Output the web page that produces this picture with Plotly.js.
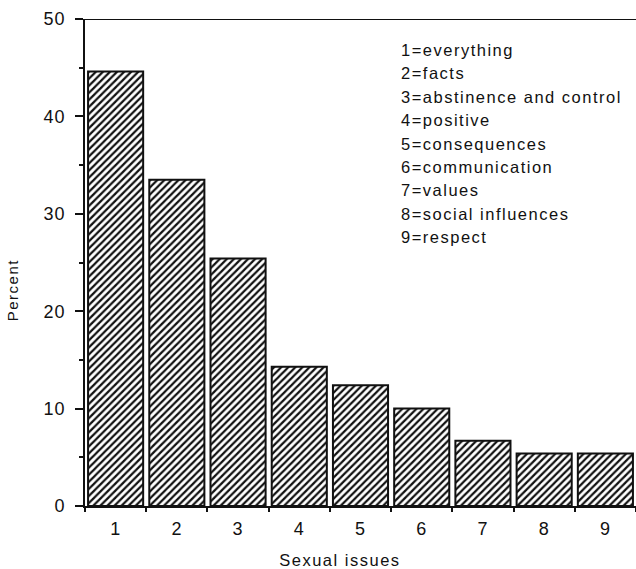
<!DOCTYPE html>
<html>
<head>
<meta charset="utf-8">
<script src="https://cdn.plot.ly/plotly-3.0.1.min.js"></script>
<style>
  html, body { margin: 0; padding: 0; background: #ffffff; }
  #chart { width: 636px; height: 569px; }
  #chart svg text { letter-spacing: 0.9px; }
  #chart svg .annotation-text { letter-spacing: 1.5px; }
</style>
</head>
<body>
<div id="chart"></div>
<script>
// Data
const categories = ["1", "2", "3", "4", "5", "6", "7", "8", "9"];
const percents = [44.6, 33.5, 25.4, 14.3, 12.4, 10.0, 6.7, 5.4, 5.4];
const keyLabels = [
  "1=everything",
  "2=facts",
  "3=abstinence and control",
  "4=positive",
  "5=consequences",
  "6=communication",
  "7=values",
  "8=social influences",
  "9=respect"
];
const yTickVals = [0, 10, 20, 30, 40, 50];

const ink = "#111111";
const fontFamily = "Liberation Sans, Arial, sans-serif";
const fs = 18;

const trace = {
  type: "bar",
  x: categories,
  y: percents,
  marker: {
    color: "#ffffff",
    line: { color: ink, width: 2 },
    pattern: { shape: "/", size: 5, solidity: 0.45, fgcolor: ink, bgcolor: "#ffffff" }
  },
  hoverinfo: "x+y"
};

// key text lines, stacked from the top of the plot area
const plotH = 569 - 19 - 63;
const keyTop = 50;      // px from top of figure for first line centre
const keyStep = 23.4;   // px between lines
const keyAnnotations = keyLabels.map((t, i) => ({
  text: t,
  xref: "paper", yref: "paper",
  x: (399 - 85) / (636 - 85),
  y: 1 - ((keyTop + i * keyStep) - 19) / plotH,
  xanchor: "left", yanchor: "middle", align: "left",
  showarrow: false,
  font: { family: fontFamily, size: 16.5, color: ink }
}));

const layout = {
  width: 636,
  height: 569,
  margin: { l: 85, r: 0, t: 19, b: 63 },
  paper_bgcolor: "#ffffff",
  plot_bgcolor: "#ffffff",
  showlegend: false,
  bargap: 0.1,
  font: { family: fontFamily, size: fs, color: ink },
  xaxis: {
    type: "category",
    tickson: "boundaries",
    ticks: "outside",
    ticklen: 4,
    tickwidth: 2,
    tickcolor: ink,
    showline: true,
    linecolor: ink,
    linewidth: 2,
    mirror: false,
    showgrid: false,
    zeroline: false,
    ticklabelstandoff: 5,
    tickfont: { family: fontFamily, size: fs, color: ink }
  },
  yaxis: {
    range: [0, 50],
    tickvals: yTickVals,
    ticks: "outside",
    ticklen: 8,
    tickwidth: 2,
    tickcolor: ink,
    showline: true,
    linecolor: ink,
    linewidth: 2,
    showgrid: false,
    zeroline: false,
    ticklabelstandoff: 6,
    tickfont: { family: fontFamily, size: fs, color: ink },
    minor: { dtick: 5, tick0: 5, ticks: "outside", ticklen: 4, tickwidth: 2, tickcolor: ink, showgrid: false }
  },
  shapes: [
    { type: "line", xref: "paper", yref: "y", x0: 0, x1: 1, y0: 50, y1: 50,
      line: { color: ink, width: 2 } }
  ],
  annotations: keyAnnotations.concat([
    { text: "Sexual issues", xref: "paper", yref: "paper",
      x: (340 - 85) / (636 - 85), y: -(560 - 506) / plotH,
      xanchor: "center", yanchor: "middle", showarrow: false,
      font: { family: fontFamily, size: 16.5, color: ink } },
    { text: "Percent", xref: "paper", yref: "paper",
      x: -(85 - 12) / (636 - 85), y: 1 - (290 - 19) / plotH,
      xanchor: "center", yanchor: "middle", textangle: -90, showarrow: false,
      font: { family: fontFamily, size: 15, color: ink } }
  ])
};

Plotly.newPlot("chart", [trace], layout, { displayModeBar: false, staticPlot: true });
</script>
</body>
</html>
